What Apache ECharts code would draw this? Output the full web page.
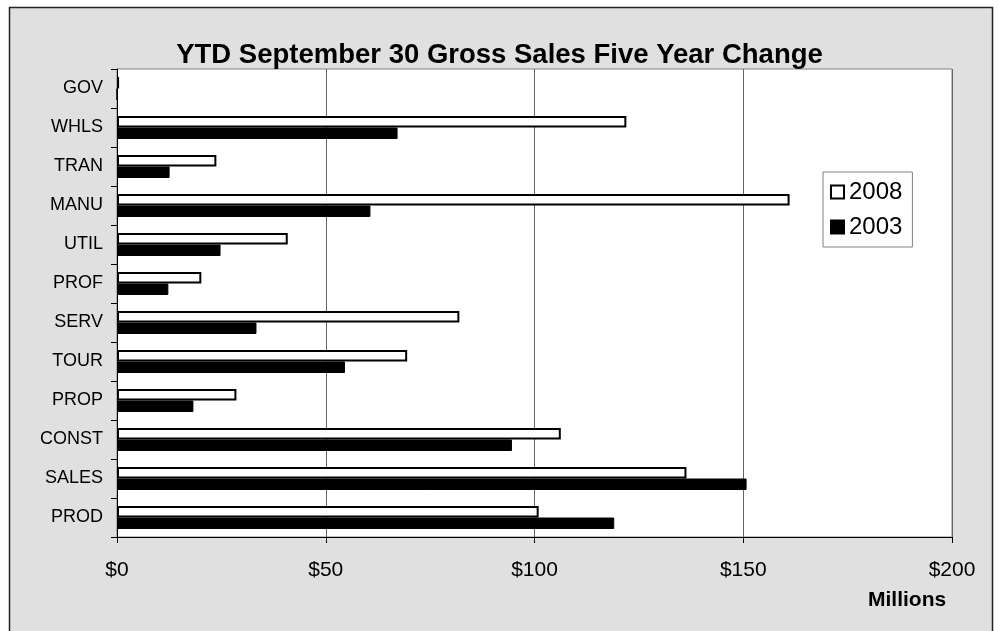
<!DOCTYPE html>
<html>
<head>
<meta charset="utf-8">
<script src="https://cdn.jsdelivr.net/npm/echarts@6/dist/echarts.min.js"></script>
<style>html,body{margin:0;padding:0;background:#fff;}#c{width:999px;height:631px;}</style>
</head>
<body>
<div id="c"></div>
<script>
const categories = ['PROD','SALES','CONST','PROP','TOUR','SERV','PROF','UTIL','MANU','TRAN','WHLS','GOV'];
const values2008 = [101, 136.4, 106.3, 28.6, 69.5, 82, 20.2, 40.9, 161.1, 23.8, 122, 0.5];
const values2003 = [119.1, 150.8, 94.6, 18.3, 54.6, 33.4, 12.3, 24.8, 60.7, 12.6, 67.2, 0];
const xTicks = [0, 50, 100, 150, 200];
const titleText = 'YTD September 30 Gross Sales Five Year Change';
const unitText = 'Millions';

const font = '"Liberation Sans", Arial, sans-serif';
const chart = echarts.init(document.getElementById('c'), null, {renderer: 'canvas'});
chart.setOption({
  backgroundColor: '#ffffff',
  animation: false,
  graphic: [
    {type: 'rect', z: -10, shape: {x: 9.5, y: 7.5, width: 983, height: 640},
     style: {fill: '#e0e0e0', stroke: '#222', lineWidth: 1.5}},
    {type: 'text', z: 10, left: 868, top: 590,
     style: {text: unitText, font: 'bold 21px ' + font, fill: '#000'}}
  ],
  title: {
    text: titleText, left: 'center', top: 36,
    textStyle: {fontFamily: font, fontWeight: 'bold', fontSize: 27.5, color: '#000'}
  },
  legend: {
    data: ['2008', '2003'], orient: 'vertical',
    left: 823, top: 172,
    padding: [8, 10, 8, 7],
    itemWidth: 13, itemHeight: 13, itemGap: 11,
    backgroundColor: '#fff', borderColor: '#808080', borderWidth: 1, borderRadius: 0,
    icon: 'rect',
    textStyle: {fontFamily: font, fontSize: 24, color: '#000', lineHeight: 23}
  },
  grid: {
    left: 117, right: 47, top: 69, bottom: 94,
    show: true, backgroundColor: '#fff', borderColor: '#808080', borderWidth: 1
  },
  xAxis: {
    type: 'value', min: xTicks[0], max: xTicks[xTicks.length - 1], interval: 50,
    axisLine: {show: true, lineStyle: {color: '#000', width: 1}},
    axisTick: {show: true, length: 6, lineStyle: {color: '#000'}},
    splitLine: {show: true, lineStyle: {color: '#666', width: 1}},
    axisLabel: {formatter: v => '$' + v, fontFamily: font, fontSize: 21, color: '#000', margin: 23}
  },
  yAxis: {
    type: 'category', data: categories,
    axisLine: {show: true, lineStyle: {color: '#000', width: 1}},
    axisTick: {show: true, length: 6, lineStyle: {color: '#000'}},
    axisLabel: {fontFamily: font, fontSize: 18, color: '#000', margin: 14}
  },
  series: [
    {name: '2008', type: 'bar', data: values2008, barWidth: 11.5, barGap: '0%',
     itemStyle: {color: '#fff', borderColor: '#000', borderWidth: 2}},
    {name: '2003', type: 'bar', data: values2003, barWidth: 11.5, barGap: '0%',
     itemStyle: {color: '#000', borderColor: '#000', borderWidth: 1}}
  ]
});
</script>
</body>
</html>
